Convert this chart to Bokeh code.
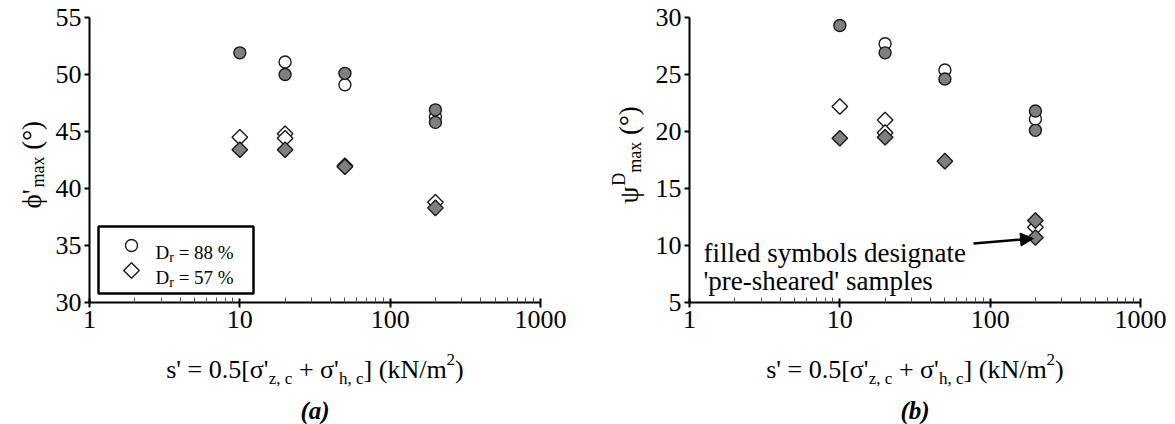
import numpy as np
from bokeh.plotting import figure
from bokeh.layouts import row
from bokeh.models import (Range1d, FixedTicker, Label, BoxAnnotation, Arrow, NormalHead,
                          LinearScale, PrintfTickFormatter, LogAxis, LinearAxis)
from bokeh.embed import file_html
from bokeh.resources import INLINE

# ---------------- data ----------------
x_ticks = [1, 10, 100, 1000]
x_tick_labels = ["1", "10", "100", "1000"]
phi_ticks = [30, 35, 40, 45, 50, 55]
psi_ticks = [5, 10, 15, 20, 25, 30]

# panel (a): peak friction angle phi'_max
phi_d88_open_x = [20, 50, 200]
phi_d88_open_y = [51.1, 49.1, 46.3]
phi_d88_filled_x = [10, 20, 50, 200, 200]
phi_d88_filled_y = [51.9, 50.0, 50.1, 46.9, 45.8]
phi_d57_open_x = [10, 20, 20, 50, 200]
phi_d57_open_y = [44.5, 44.8, 44.4, 42.0, 38.8]
phi_d57_filled_x = [10, 20, 50, 200]
phi_d57_filled_y = [43.4, 43.4, 41.9, 38.3]

# panel (b): peak dilation angle psi^D_max
psi_d88_open_x = [20, 50, 200]
psi_d88_open_y = [27.7, 25.4, 21.1]
psi_d88_filled_x = [10, 20, 50, 200, 200]
psi_d88_filled_y = [29.3, 26.9, 24.6, 21.8, 20.1]
psi_d57_open_x = [10, 20, 20, 200]
psi_d57_open_y = [22.2, 21.0, 19.9, 11.6]
psi_d57_filled_x = [10, 20, 50, 200, 200]
psi_d57_filled_y = [19.4, 19.5, 17.4, 12.2, 10.7]

legend_labels = ["= 88 %", "= 57 %"]
note_lines = ["filled symbols designate", "'pre-sheared' samples"]

# ---------------- style / layout ----------------
FONT = "Liberation Serif"
FS = 26
SUB = 17
GREY = "#7f7f7f"
EDGE = "#1a1a1a"
H = 424
AX_TOP, AX_BOTTOM = 17, 302     # pixel rows of the y-axis ends
AX_W = 451                      # pixel length of the x axis (3 decades)

W = {'s': 389, "'": 180, ' ': 250, '=': 564, '0': 500, '.': 250, '5': 500, '[': 333,
     'σ': 549, 'z': 444, ',': 250, 'c': 444, '+': 564, 'h': 500, ']': 333, '(': 333,
     'k': 500, 'N': 722, '/': 278, 'm': 778, '2': 500, ')': 333, 'a': 444, 'x': 500,
     '°': 400, 'ϕ': 600, 'ψ': 660, 'D': 722, 'r': 333, '8': 500, '7': 500, '%': 833}


def tw(s, size):
    return sum(W.get(ch, 500) for ch in s) / 1000.0 * size


def label(p, text, cx, cy, size=FS, angle=0.0, align="left", style="normal"):
    # cx, cy: canvas pixels from the top-left corner (frame covers the canvas)
    p.add_layout(Label(x=cx, y=H - cy, x_units="screen", y_units="screen", text=text,
                       angle=angle, text_font=FONT, text_font_size=f"{size}px",
                       text_font_style=style, text_align=align,
                       text_baseline="alphabetic", text_color="black"))


def add_rich(p, pieces, cx, cy, center=False, rotated=False):
    total = sum(tw(t, s) for t, s, _ in pieces)
    if center:
        if rotated:
            cy += total / 2
        else:
            cx -= total / 2
    pos = 0.0
    for t, s, dy in pieces:
        lead = len(t) - len(t.lstrip(' '))
        off = pos + tw(' ' * lead, s)
        if rotated:
            label(p, t.strip(' '), cx - dy, cy - off, s, angle=np.pi / 2)
        else:
            label(p, t.strip(' '), cx + off, cy - dy, s)
        pos += tw(t, s)


def make_fig(yr, yticks, fig_w, ax_left):
    dec = AX_W / 3.0
    x_start = 10 ** (-ax_left / dec)
    x_end = 10 ** ((fig_w - ax_left) / dec)
    ppu = (AX_BOTTOM - AX_TOP) / (yr[1] - yr[0])
    y_start = yr[0] - (H - AX_BOTTOM) / ppu
    y_end = yr[1] + AX_TOP / ppu
    p = figure(width=fig_w, height=H, x_axis_type="log",
               x_range=Range1d(x_start, x_end), y_range=Range1d(y_start, y_end),
               x_axis_location=None, y_axis_location=None,
               output_backend="svg", toolbar_location=None,
               min_border=0, min_border_left=0, min_border_right=0,
               min_border_top=0, min_border_bottom=0)
    p.outline_line_color = None
    p.grid.visible = False
    p.background_fill_color = "white"
    p.border_fill_color = "white"
    p.extra_x_ranges = {"px": Range1d(0, fig_w)}
    p.extra_y_ranges = {"py": Range1d(H, 0)}
    p.extra_x_scales = {"px": LinearScale()}
    p.extra_y_scales = {"py": LinearScale()}

    xa = LogAxis(fixed_location=yr[0], bounds=(x_ticks[0], x_ticks[-1]),
                 ticker=FixedTicker(ticks=x_ticks,
                                    minor_ticks=[m * t for t in x_ticks[:-1] for m in range(2, 10)]),
                 formatter=PrintfTickFormatter(format="%d"))
    xa.major_label_overrides = {t: l for t, l in zip(x_ticks, x_tick_labels)}
    xa.major_tick_in = 4
    xa.major_tick_out = 5
    xa.minor_tick_in = 5
    xa.minor_tick_out = 0
    xa.minor_tick_line_color = "#555555"
    xa.minor_tick_line_width = 1
    xa.major_label_standoff = 3
    ya = LinearAxis(fixed_location=x_ticks[0], bounds=(yr[0], yr[1]),
                    ticker=FixedTicker(ticks=yticks, minor_ticks=[]))
    ya.major_tick_in = 0
    ya.major_tick_out = 5
    ya.major_label_standoff = 3
    for ax in (xa, ya):
        ax.axis_line_width = 2
        ax.axis_line_color = "black"
        ax.major_tick_line_width = 2
        ax.major_tick_line_color = "black"
        ax.major_label_text_font = FONT
        ax.major_label_text_font_size = f"{FS}px"
        ax.major_label_text_color = "black"
    p.add_layout(xa, "below")
    p.add_layout(ya, "left")
    return p


def add_points(p, ox88, oy88, fx88, fy88, ox57, oy57, fx57, fy57):
    common = dict(line_color=EDGE, line_width=1.4)
    p.scatter(ox88, oy88, marker="circle", size=12, fill_color="white", **common)
    p.scatter(ox57, oy57, marker="square", angle=np.pi / 4, size=11, fill_color="white", **common)
    p.scatter(fx88, fy88, marker="circle", size=12, fill_color=GREY, **common)
    p.scatter(fx57, fy57, marker="square", angle=np.pi / 4, size=11, fill_color=GREY, **common)


def x_label(p, cx, tag):
    pieces = [("s' = 0.5[σ'", FS, 0), ("z, c", SUB, -9), (" + σ'", FS, 0), ("h, c", SUB, -9),
              ("] (kN/m", FS, 0), ("2", SUB, 10), (")", FS, 0)]
    add_rich(p, pieces, cx, 369, center=True)
    label(p, tag, cx, 410, 25, align="center", style="bold italic")


# ---------------- panel (a) ----------------
pa = make_fig((30, 55), phi_ticks, 587, 89)
add_points(pa, phi_d88_open_x, phi_d88_open_y, phi_d88_filled_x, phi_d88_filled_y,
           phi_d57_open_x, phi_d57_open_y, phi_d57_filled_x, phi_d57_filled_y)
x_label(pa, 89 + AX_W / 2, "(a)")
add_rich(pa, [("ϕ'", 27, 0), ("max", 18, -6), (" (°)", 27, 0)], 31, 208, rotated=True)

# legend (screen positions)
pa.add_layout(BoxAnnotation(left=98, right=253, bottom=H - 293, top=H - 226,
                            left_units="screen", right_units="screen",
                            bottom_units="screen", top_units="screen",
                            fill_color="white", fill_alpha=1.0, line_color="black",
                            line_alpha=1.0, line_width=2.5, level="underlay"))
pa.scatter([131], [245], x_range_name="px", y_range_name="py", marker="circle", size=12,
           fill_color="white", line_color=EDGE, line_width=1.4)
pa.scatter([131], [270], x_range_name="px", y_range_name="py", marker="square",
           angle=np.pi / 4, size=11, fill_color="white", line_color=EDGE, line_width=1.4)
for i, lab in enumerate(legend_labels):
    add_rich(pa, [("D", 19, 0), ("r", 14, -5), (" " + lab, 19, 0)], 155, 252 + 25 * i)

# ---------------- panel (b) ----------------
pb = make_fig((5, 30), psi_ticks, 588, 102)
add_points(pb, psi_d88_open_x, psi_d88_open_y, psi_d88_filled_x, psi_d88_filled_y,
           psi_d57_open_x, psi_d57_open_y, psi_d57_filled_x, psi_d57_filled_y)
x_label(pb, 102 + AX_W / 2, "(b)")
add_rich(pb, [("ψ", 27, 0), ("D", 18, 10), ("max", 18, -6), (" (°)", 27, 0)], 41, 203,
         rotated=True)
for i, line in enumerate(note_lines):
    label(pb, line, 116, 252 + 28 * i, 27)
pb.add_layout(Arrow(end=NormalHead(size=13, fill_color="black", line_color="black"),
                    x_start=386, y_start=H - 243, x_end=446, y_end=H - 238,
                    start_units="screen", end_units="screen",
                    line_color="black", line_width=2.5))

layout = row(pa, pb)
open("out.html", "w").write(file_html(layout, INLINE))
